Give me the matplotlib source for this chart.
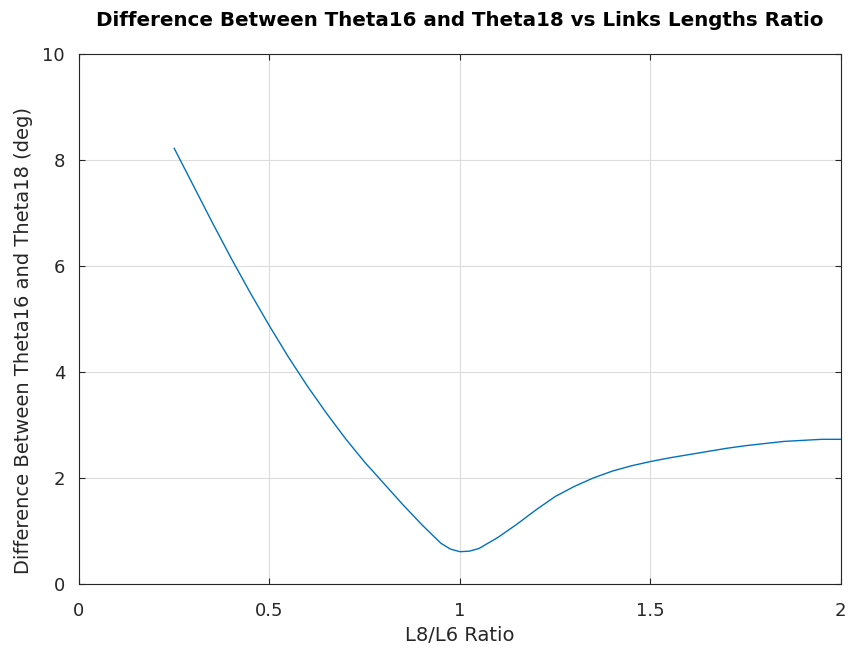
import matplotlib
matplotlib.use("Agg")
import matplotlib.pyplot as plt

# Link length ratio L8/L6 and the resulting angle difference (deg)
ratio = [0.25, 0.30, 0.35, 0.40, 0.45, 0.50, 0.55, 0.60, 0.65, 0.70,
         0.75, 0.80, 0.85, 0.90, 0.95, 0.975, 1.00, 1.025, 1.05, 1.10,
         1.15, 1.20, 1.25, 1.30, 1.35, 1.40, 1.45, 1.50, 1.55, 1.60,
         1.65, 1.70, 1.75, 1.80, 1.85, 1.90, 1.95, 2.00]
diff_deg = [8.22, 7.52, 6.82, 6.14, 5.49, 4.87, 4.28, 3.73, 3.22, 2.74,
            2.30, 1.90, 1.50, 1.12, 0.77, 0.66, 0.61, 0.62, 0.67, 0.88,
            1.13, 1.40, 1.65, 1.84, 2.00, 2.13, 2.23, 2.31, 2.38, 2.44,
            2.50, 2.56, 2.61, 2.65, 2.69, 2.71, 2.73, 2.73]

x_ticks = [0, 0.5, 1, 1.5, 2]
x_tick_labels = ["0", "0.5", "1", "1.5", "2"]
y_ticks = [0, 2, 4, 6, 8, 10]
y_tick_labels = ["0", "2", "4", "6", "8", "10"]

plt.rcParams["font.family"] = ["DejaVu Sans"]

fig = plt.figure(figsize=(8.51, 6.5), dpi=100)
ax = fig.add_axes([0.0928, 0.1015, 0.8952, 0.8155])

ax.plot(ratio, diff_deg, color="#0072BD", linewidth=1.0)

ax.set_xlim(0, 2)
ax.set_ylim(0, 10)
ax.set_xticks(x_ticks)
ax.set_xticklabels(x_tick_labels)
ax.set_yticks(y_ticks)
ax.set_yticklabels(y_tick_labels)

ax.grid(True, color="#dcdcdc", linewidth=0.8)
ax.set_axisbelow(True)
for s in ax.spines.values():
    s.set_color("#262626")
    s.set_linewidth(0.8)
ax.tick_params(direction="in", length=4, width=0.8, colors="#262626",
               labelsize=13, top=True, right=True)
ax.tick_params(axis="x", pad=13)
ax.tick_params(axis="y", pad=10)

ax.set_xlabel("L8/L6 Ratio", fontsize=14, color="#262626", labelpad=4)
ax.set_ylabel("Difference Between Theta16 and Theta18 (deg)", fontsize=14,
              color="#262626")
ax.yaxis.set_label_coords(-0.061, 0.46)
ax.set_title("Difference Between Theta16 and Theta18 vs Links Lengths Ratio",
             fontsize=14.3, fontweight="bold", color="black", pad=20)

fig.savefig("out.png", dpi=100)
